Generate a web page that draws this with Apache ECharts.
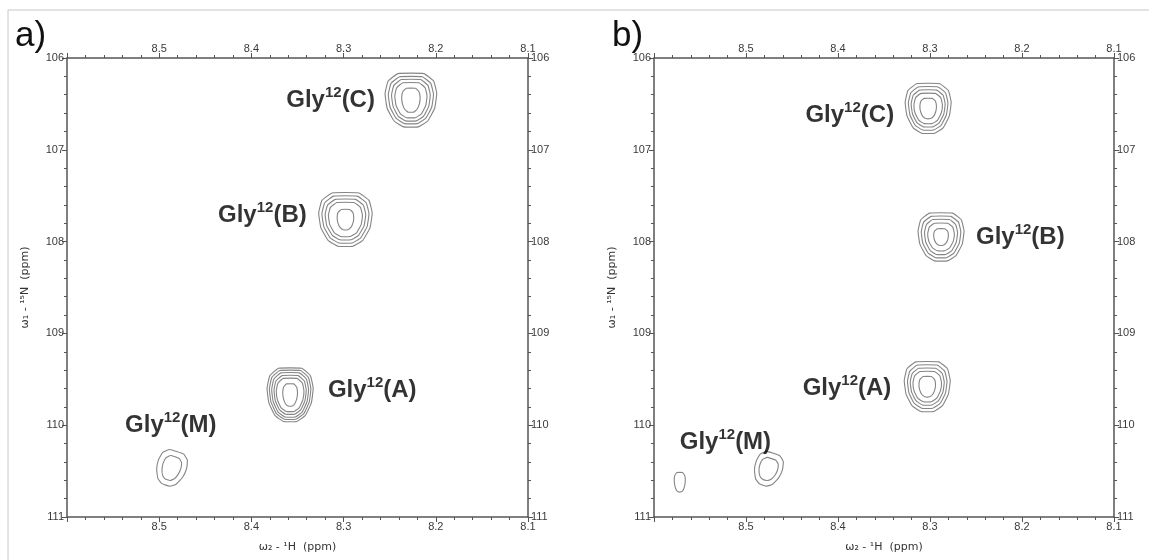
<!DOCTYPE html>
<html>
<head>
<meta charset="utf-8">
<script src="https://cdn.jsdelivr.net/npm/echarts@6/dist/echarts.min.js"></script>
<style>
html,body{margin:0;padding:0;background:#fff;}
#chart{width:1149px;height:560px;}
</style>
</head>
<body>
<div id="chart"></div>
<script>
// ---------- axis ranges / ticks ----------
const xMin = 8.1, xMax = 8.6, xInterval = 0.1;
const yMin = 106, yMax = 111, yInterval = 1;
const xAxisName = 'ω\u2082 - \u00B9H  (ppm)';
const yAxisName = 'ω\u2081 - \u00B9\u2075N  (ppm)';
const panelTitles = ['a)', 'b)'];

// ---------- panel a peaks (ppm) ----------
const peaksA_names = ['C', 'B', 'A', 'M'];
const peaksA_H = [8.227, 8.298, 8.358, 8.487];
const peaksA_N = [106.46, 107.76, 109.67, 110.47];
// contour half-widths per peak (ppm), outer -> inner
const ringsA_H = [
  [0.028, 0.0245, 0.021, 0.0175, 0.010],
  [0.029, 0.0255, 0.022, 0.0185, 0.009],
  [0.025, 0.0225, 0.020, 0.0175, 0.015, 0.008],
  [0.016, 0.010]
];
const ringsA_N = [
  [0.29, 0.255, 0.225, 0.19, 0.13],
  [0.29, 0.255, 0.22, 0.185, 0.11],
  [0.29, 0.265, 0.24, 0.21, 0.18, 0.12],
  [0.19, 0.13]
];

// ---------- panel b peaks (ppm) ----------
const peaksB_names = ['C', 'B', 'A', 'M', 'M2'];
const peaksB_H = [8.302, 8.288, 8.303, 8.476, 8.572];
const peaksB_N = [106.55, 107.95, 109.58, 110.48, 110.62];
const ringsB_H = [
  [0.025, 0.0215, 0.0185, 0.0155, 0.009],
  [0.025, 0.0215, 0.018, 0.0145, 0.008],
  [0.025, 0.0215, 0.0185, 0.0155, 0.009],
  [0.015, 0.010],
  [0.006]
];
const ringsB_N = [
  [0.27, 0.235, 0.20, 0.165, 0.11],
  [0.26, 0.225, 0.19, 0.15, 0.09],
  [0.27, 0.235, 0.20, 0.165, 0.11],
  [0.18, 0.12],
  [0.105]
];

// ---------- label texts ----------
const labelBase = 'Gly';
const labelSup = '12';

// ---------- styling / annotation placement (not data) ----------
const tiltDeg = { M: 18, M2: 0 };
// label anchors (ppm) and side of anchor where text sits
const labelAnchorsA = { C: [8.266, 106.46, 'left'], B: [8.340, 107.71, 'left'], A: [8.317, 109.62, 'right'], M: [8.537, 110.0, 'right'] };
const labelAnchorsB = { C: [8.339, 106.63, 'left'], B: [8.250, 107.95, 'right'], A: [8.342, 109.6, 'left'], M: [8.572, 110.19, 'right'] };

const SHAPE = [
  [-0.5, -1], [0.5, -1], [0.88, -0.72], [1, -0.25], [0.92, 0.3], [0.65, 0.78],
  [0.28, 1], [-0.28, 1], [-0.65, 0.78], [-0.92, 0.3], [-1, -0.25], [-0.88, -0.72]
];

const grids = [
  { left: 67, top: 58, width: 461, height: 459 },
  { left: 654, top: 58, width: 460, height: 459 }
];

function ringData(names, H, N, rH, rN) {
  const out = [];
  names.forEach((nm, i) => {
    rH[i].forEach((hx, j) => {
      out.push([H[i], N[i], hx, rN[i][j], tiltDeg[nm] || 0]);
    });
  });
  return out;
}
function labelData(names, anchors) {
  const out = [];
  names.forEach(nm => {
    const a = anchors[nm];
    if (!a) return;
    out.push({ value: [a[0], a[1]], name: nm, label: { position: a[2] } });
  });
  return out;
}

function renderContour(params, api) {
  const c = api.coord([api.value(0), api.value(1)]);
  const s = api.size([api.value(2), api.value(3)], [api.value(0), api.value(1)]);
  const rx = Math.abs(s[0]), ry = Math.abs(s[1]);
  const t = api.value(4) * Math.PI / 180;
  const ct = Math.cos(t), st = Math.sin(t);
  const pts = SHAPE.map(p => {
    const x = p[0] * rx, y = p[1] * ry;
    return [c[0] + x * ct - y * st, c[1] + x * st + y * ct];
  });
  return {
    type: 'polygon',
    shape: { points: pts, smooth: 0.12 },
    style: { fill: 'none', stroke: '#858585', lineWidth: 1.1 }
  };
}

const axisLineStyle = { color: '#555', width: 1.5 };
const tickLabelStyle = { color: '#3a3a3a', fontSize: 11, fontFamily: 'Liberation Sans, Arial, sans-serif' };

function makeX(gi, pos, withName) {
  return {
    type: 'value', gridIndex: gi, position: pos, min: xMin, max: xMax, interval: xInterval,
    inverse: true,
    axisLine: { show: true, onZero: false, lineStyle: axisLineStyle },
    axisTick: { show: true, inside: false, length: 5, lineStyle: { color: '#555', width: 1 } },
    minorTick: { show: true, splitNumber: 5, length: 3, lineStyle: { color: '#555', width: 1 } },
    splitLine: { show: false },
    axisLabel: Object.assign({
      margin: 4,
      formatter: v => (Math.abs(v - xMax) < 1e-6 ? '' : v.toFixed(1)),
      showMinLabel: true, showMaxLabel: true
    }, tickLabelStyle),
    name: withName ? xAxisName : '',
    nameLocation: 'middle', nameGap: 25,
    nameTextStyle: { color: '#333', fontSize: 11, fontFamily: 'DejaVu Sans, sans-serif' }
  };
}
function makeY(gi, pos, withName) {
  return {
    type: 'value', gridIndex: gi, position: pos, min: yMin, max: yMax, interval: yInterval,
    inverse: true,
    axisLine: { show: true, onZero: false, lineStyle: axisLineStyle },
    axisTick: { show: true, inside: false, length: 5, lineStyle: { color: '#555', width: 1 } },
    minorTick: { show: true, splitNumber: 5, length: 3, lineStyle: { color: '#555', width: 1 } },
    splitLine: { show: false },
    axisLabel: Object.assign({ margin: 3, formatter: v => String(Math.round(v)), showMinLabel: true, showMaxLabel: true }, tickLabelStyle),
    name: withName ? yAxisName : '',
    nameLocation: 'middle', nameGap: 36, nameRotate: 90,
    nameTextStyle: { color: '#333', fontSize: 11, fontFamily: 'DejaVu Sans, sans-serif' }
  };
}

const labelRich = {
  g: { fontSize: 24, fontWeight: 'bold', color: '#000', fontFamily: 'Liberation Sans, Arial, sans-serif', lineHeight: 30 },
  s: { fontSize: 15, fontWeight: 'bold', color: '#000', fontFamily: 'Liberation Sans, Arial, sans-serif', verticalAlign: 'top', lineHeight: 26 }
};
function labelSeries(xi, yi, data) {
  return {
    type: 'scatter', xAxisIndex: xi, yAxisIndex: yi, symbolSize: 0, silent: true,
    data: data,
    label: {
      show: true, distance: 0, color: '#000',
      formatter: p => '{g|' + labelBase + '}{s|' + labelSup + '}{g|(' + p.name + ')}',
      rich: labelRich
    }
  };
}

const chart = echarts.init(document.getElementById('chart'), null, { renderer: 'canvas' });
chart.setOption({
  animation: false,
  backgroundColor: '#fff',
  grid: grids,
  xAxis: [makeX(0, 'bottom', true), makeX(0, 'top', false), makeX(1, 'bottom', true), makeX(1, 'top', false)],
  yAxis: [makeY(0, 'left', true), makeY(0, 'right', false), makeY(1, 'left', true), makeY(1, 'right', false)],
  series: [
    { type: 'custom', xAxisIndex: 0, yAxisIndex: 0, renderItem: renderContour, silent: true,
      data: ringData(peaksA_names, peaksA_H, peaksA_N, ringsA_H, ringsA_N) },
    { type: 'custom', xAxisIndex: 2, yAxisIndex: 2, renderItem: renderContour, silent: true,
      data: ringData(peaksB_names, peaksB_H, peaksB_N, ringsB_H, ringsB_N) },
    labelSeries(0, 0, labelData(peaksA_names, labelAnchorsA)),
    labelSeries(2, 2, labelData(peaksB_names, labelAnchorsB))
  ],
  graphic: [
    { type: 'line', shape: { x1: 8, y1: 10, x2: 1149, y2: 10 }, style: { stroke: '#c8c8c8', lineWidth: 1 } },
    { type: 'line', shape: { x1: 8, y1: 10, x2: 8, y2: 560 }, style: { stroke: '#c8c8c8', lineWidth: 1 } },
    { type: 'text', left: 15, top: 19, style: { text: panelTitles[0], fontSize: 35, fill: '#111', fontFamily: 'Liberation Sans, Arial, sans-serif' } },
    { type: 'text', left: 612, top: 19, style: { text: panelTitles[1], fontSize: 35, fill: '#111', fontFamily: 'Liberation Sans, Arial, sans-serif' } }
  ]
});
</script>
</body>
</html>
